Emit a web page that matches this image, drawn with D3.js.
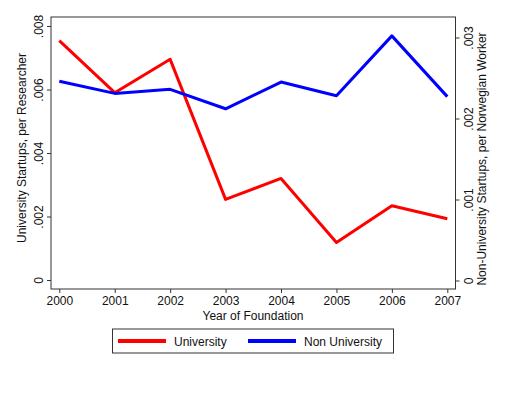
<!DOCTYPE html>
<html>
<head>
<meta charset="utf-8">
<script src="https://cdn.jsdelivr.net/npm/d3@7"></script>
<style>
  html, body { margin: 0; padding: 0; background: #fff; }
  svg { display: block; font-family: "Liberation Sans", Arial, sans-serif; }
</style>
</head>
<body>
<svg id="chart" width="520" height="399"></svg>
<script>
  // Data
  const years = [2000, 2001, 2002, 2003, 2004, 2005, 2006, 2007];
  const university = [0.00754, 0.0059, 0.00695, 0.00254, 0.0032, 0.00118, 0.00234, 0.00193];
  const nonUniversity = [0.00246, 0.00231, 0.00236, 0.00212, 0.00245, 0.00228, 0.00302, 0.00227];
  const leftTicks = [0, 0.002, 0.004, 0.006, 0.008];
  const rightTicks = [0, 0.001, 0.002, 0.003];
  const legendItems = [
    { label: 'University', color: '#ff0000' },
    { label: 'Non University', color: '#0000ff' }
  ];

  const svg = d3.select('#chart');
  const frame = { left: 51, right: 455.5, top: 17, bottom: 289 };
  const axisColor = '#333';

  // Stata-style labels: .002 instead of 0.002
  const fmt = d => d === 0 ? '0' : d3.format('.3f')(d).replace(/^0/, '');

  const x = d3.scaleLinear().domain([2000, 2007]).range([59.3, 447.3]);
  const yLeft = d3.scaleLinear().domain([0, 0.008]).range([280, 26]);
  const yRight = d3.scaleLinear().domain([0, 0.003]).range([280.5, 37.5]);

  // plot frame
  svg.append('rect')
    .attr('x', frame.left).attr('y', frame.top)
    .attr('width', frame.right - frame.left)
    .attr('height', frame.bottom - frame.top)
    .attr('fill', 'none')
    .attr('stroke', axisColor)
    .attr('stroke-width', 1);

  // left axis (labels rotated)
  const gl = svg.append('g').attr('transform', `translate(${frame.left},0)`)
    .call(d3.axisLeft(yLeft).tickValues(leftTicks).tickSize(4).tickFormat(fmt));
  gl.select('.domain').remove();
  gl.selectAll('line').attr('stroke', axisColor);
  gl.selectAll('text')
    .attr('font-size', 12).attr('fill', '#111')
    .attr('x', 0).attr('dy', null).attr('y', 4.5)
    .attr('transform', 'translate(-13,0) rotate(-90)')
    .attr('text-anchor', 'middle');

  // right axis
  const gr = svg.append('g').attr('transform', `translate(${frame.right},0)`)
    .call(d3.axisRight(yRight).tickValues(rightTicks).tickSize(4).tickFormat(fmt));
  gr.select('.domain').remove();
  gr.selectAll('line').attr('stroke', axisColor);
  gr.selectAll('text')
    .attr('font-size', 12).attr('fill', '#111')
    .attr('x', 0).attr('dy', null).attr('y', 4.5)
    .attr('transform', 'translate(12.5,0) rotate(-90)')
    .attr('text-anchor', 'middle');

  // bottom axis
  const gx = svg.append('g').attr('transform', `translate(0,${frame.bottom})`)
    .call(d3.axisBottom(x).tickValues(years).tickSize(4).tickPadding(3).tickFormat(d3.format('d')));
  gx.select('.domain').remove();
  gx.selectAll('line').attr('stroke', axisColor);
  gx.selectAll('text').attr('font-size', 12).attr('fill', '#111');

  // axis titles
  svg.append('text')
    .attr('transform', 'translate(26,148) rotate(-90)')
    .attr('text-anchor', 'middle').attr('font-size', 12).attr('fill', '#111')
    .text('University Startups, per Researcher');
  svg.append('text')
    .attr('transform', 'translate(486,159) rotate(-90)')
    .attr('text-anchor', 'middle').attr('font-size', 12).attr('fill', '#111')
    .text('Non-University Startups, per Norwegian Worker');
  svg.append('text')
    .attr('x', 253).attr('y', 320)
    .attr('text-anchor', 'middle').attr('font-size', 12).attr('fill', '#111')
    .text('Year of Foundation');

  // lines
  const lineLeft = d3.line().x((d, i) => x(years[i])).y(d => yLeft(d));
  const lineRight = d3.line().x((d, i) => x(years[i])).y(d => yRight(d));

  svg.append('path')
    .attr('d', lineLeft(university))
    .attr('fill', 'none').attr('stroke', '#ff0000')
    .attr('stroke-width', 3).attr('stroke-linejoin', 'round');
  svg.append('path')
    .attr('d', lineRight(nonUniversity))
    .attr('fill', 'none').attr('stroke', '#0000ff')
    .attr('stroke-width', 3).attr('stroke-linejoin', 'round');

  // legend
  const legend = svg.append('g');
  legend.append('rect')
    .attr('x', 112.5).attr('y', 329).attr('width', 281).attr('height', 24)
    .attr('fill', '#fff').attr('stroke', axisColor).attr('stroke-width', 1);
  const legendX = [118, 248];
  legendItems.forEach((item, i) => {
    legend.append('line')
      .attr('x1', legendX[i]).attr('x2', legendX[i] + 48)
      .attr('y1', 341).attr('y2', 341)
      .attr('stroke', item.color).attr('stroke-width', 4);
    legend.append('text')
      .attr('x', legendX[i] + 56).attr('y', 345.5)
      .attr('font-size', 12).attr('fill', '#111')
      .text(item.label);
  });
</script>
</body>
</html>
